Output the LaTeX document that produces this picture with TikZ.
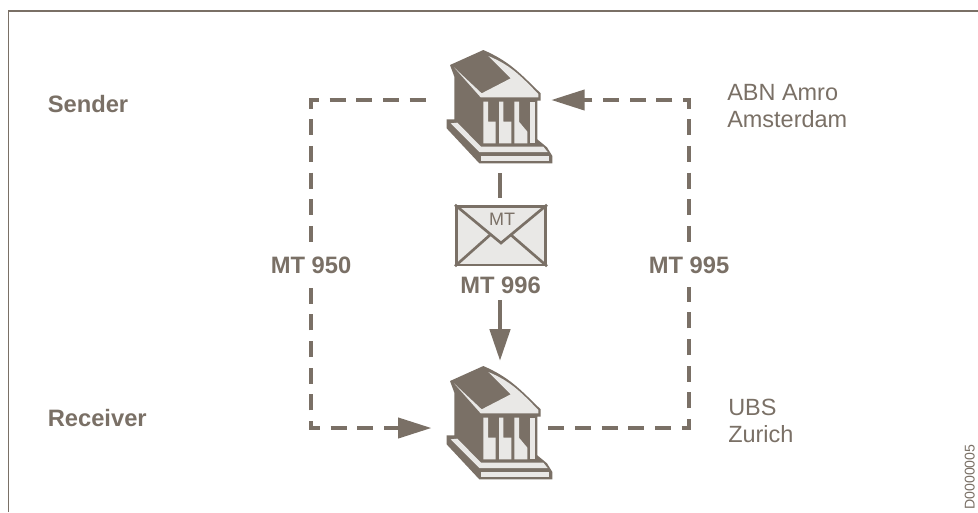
\documentclass[tikz,border=0pt]{standalone}
\usepackage{fontspec}
\setmainfont{Liberation Sans}
\usetikzlibrary{arrows.meta}
\definecolor{tp}{HTML}{7A7066}
\definecolor{lt}{HTML}{E9E8E6}
\newcommand{\bankicon}[1]{%
\begin{scope}[shift={(#1)},x=0.25pt,y=-0.25pt]
\fill[tp] (190,0) .. controls (270,35) and (300,70) .. (362,130) -- (362,152) -- (352,152) -- (352,268) -- (381,292) -- (397,318) -- (397,340) -- (178,340) -- (80,235) -- (80,208) -- (103,208) -- (103,80) -- (90,45) -- cycle;
\fill[lt] (102,52) -- (185,130) -- (272,85) -- (205,18) .. controls (270,45) and (300,75) .. (355,132) -- (355,142) -- (182,142) -- cycle;
\fill[lt] (190,155) -- (204,155) -- (204,215) -- (227,215) -- (227,280) -- (190,280) -- cycle;
\fill[lt] (237,155) -- (250,155) -- (250,215) -- (274,215) -- (274,280) -- (237,280) -- cycle;
\fill[lt] (283,155) -- (297,155) -- (297,215) -- (322,245) -- (322,280) -- (283,280) -- cycle;
\fill[lt] (331,155) -- (345,155) -- (345,280) -- (331,280) -- cycle;
\fill[lt] (92,220) -- (112,218) -- (183,290) -- (370,290) -- (383,306) -- (178,306) -- cycle;
\fill[lt] (183,318) -- (388,318) -- (388,332) -- (183,332) -- cycle;
\end{scope}}
\tikzset{
 lbl/.style={anchor=base west,inner sep=0,text=tp,font=\fontsize{17.6pt}{21pt}\selectfont},
 blbl/.style={lbl,font=\fontsize{17.8pt}{21pt}\selectfont\bfseries},
 breaklbl/.style={blbl,anchor=base,text height=23.25pt,text depth=10.5pt},
 conn/.style={draw=tp,line width=3pt},
 dsh/.style={dash pattern=on 12pt off 8pt,dash phase=#1},
 tipd/.style={-{Triangle[length=25pt,width=15pt]}},
 anchorbox/.style={inner sep=0,minimum height=30pt}
}
\begin{document}
\begin{tikzpicture}[x=0.75pt,y=-0.75pt]
\useasboundingbox (0,0) rectangle (978,512);
\draw[tp,line width=1pt] (8.5,512) -- (8.5,11) -- (978,11);
\bankicon{420,50}
\bankicon{420,366}
\node[anchorbox,minimum width=93.75pt] (bankA) at (488.5,100) {};
\node[anchorbox,minimum width=87.2pt] (bankB) at (489.85,428) {};
\node[breaklbl] (m0) at (311,273) {MT 950};
\node[breaklbl] (m5) at (689,273) {MT 995};
\coordinate (tl) at (311,100);
\coordinate (bl) at (311,428);
\coordinate (tr) at (689,100);
\coordinate (br) at (689,428);
\foreach \c in {tl,bl,tr,br}{\fill[tp] (\c) ++(-2,-2) rectangle ++(4,4);}
\draw[conn,dsh=6pt] (tl) -- (bankA.west);
\draw[conn,dsh=5.6pt] (tl) -- (m0.north);
\draw[conn,dsh=6.75pt] (bl) -- (m0.south);
\draw[conn,dsh=5.25pt,tipd] (bl) -- (bankB.west);
\draw[conn,dsh=0pt] (bankB.east) -- (br);
\draw[conn,dsh=5.25pt] (br) -- (m5.south);
\draw[conn,dsh=5.6pt] (tr) -- (m5.north);
\draw[conn,dsh=7.5pt,tipd] (tr) -- (bankA.east);
% envelope
\node[draw=tp,fill=lt,line width=2pt,minimum width=67pt,minimum height=44pt,inner sep=0] (env) at (501,235.5) {};
\coordinate (flap) at (501,243);
\draw[tp,line width=2pt] (env.north west) -- (flap) -- (env.north east);
\draw[tp,line width=2pt] (env.south west) -- (490,235);
\draw[tp,line width=2pt] (env.south east) -- (511,235);
\node[inner sep=0,text=tp,font=\fontsize{13.5pt}{16pt}\selectfont,anchor=base] (mt) at (502,225) {MT};
\coordinate (a1) at (500,173);
\coordinate (a2) at (500,198);
\draw[tp,line width=3.6pt] (a1) -- (a2);
\coordinate (a3) at (500,300);
\coordinate (a4) at (500,361);
\draw[tp,line width=3.6pt,-{Triangle[length=24pt,width=15pt]}] (a3) -- (a4);
% labels
\node[blbl] (s) at (47.5,112) {Sender};
\node[blbl] (r) at (47.5,426.5) {Receiver};
\node[blbl] (m6) at (460,293) {MT 996};
\node[lbl] (n1) at (727,100) {ABN Amro};
\node[lbl] (n2) at (727,127) {Amsterdam};
\node[lbl] (n3) at (728,415.7) {UBS};
\node[lbl] (n4) at (728,442.7) {Zurich};
\node[inner sep=0,text=tp,font=\fontsize{10.6pt}{12pt}\selectfont,rotate=90,anchor=base west] (code) at (974.5,510) {D0000005};
\end{tikzpicture}
\end{document}
